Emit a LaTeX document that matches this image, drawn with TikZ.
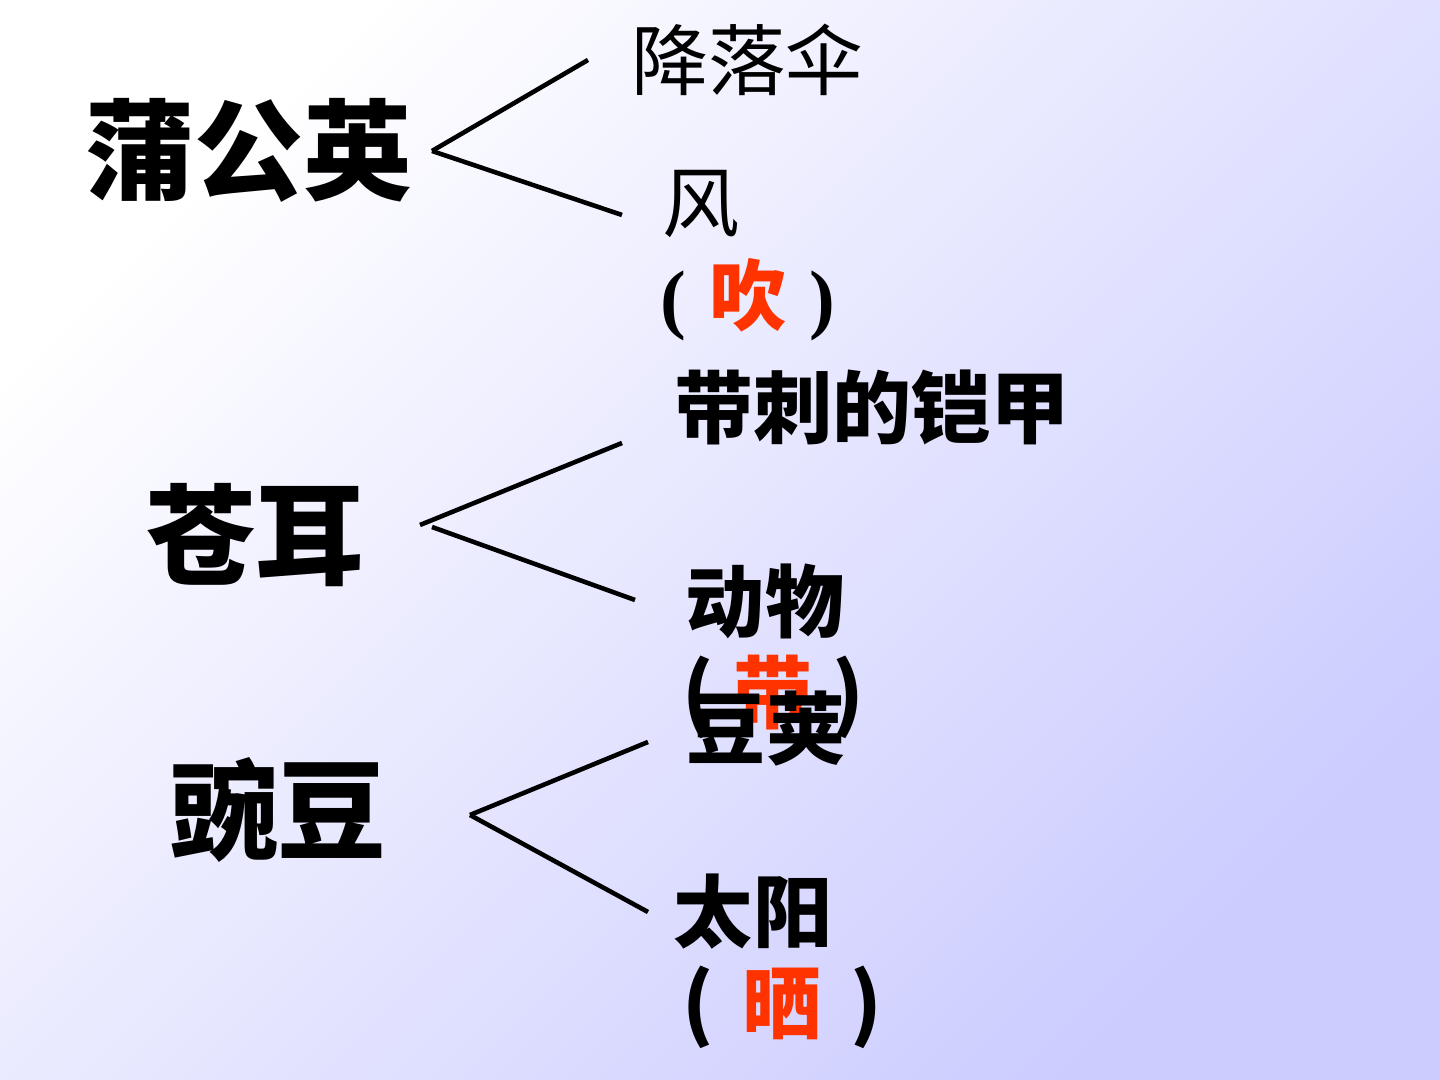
\documentclass[tikz,border=0pt]{standalone}
\usepackage{fontspec}
\setmainfont{Noto Sans CJK SC}
\newfontfamily\parenfont{Liberation Serif}
\usepackage{xcolor}
\usetikzlibrary{positioning}
\definecolor{bgend}{RGB}{204,204,255}
\definecolor{hl}{RGB}{255,51,0}

\begin{document}
\begin{tikzpicture}[
  plant/.style={inner sep=0pt,font=\fontsize{31}{31}\selectfont\bfseries},
  trait/.style={inner sep=0pt,font=\fontsize{22}{22}\selectfont},
  agent/.style={inner sep=0pt,font=\fontsize{22.5}{22.5}\selectfont\bfseries},
  branch/.style={line width=1.3pt}
]
% background
\shade[top color=white,bottom color=bgend,shading angle=45] (0,0) rectangle (14.4,10.8);
\useasboundingbox (0,0) rectangle (14.4,10.8);

% seeds
\node[plant] (dandelion) at (2.49,9.30) {蒲公英};
\node[plant] (burr) at (2.55,5.45) {苍耳};
\node[plant] (pea) at (2.78,2.70) {豌豆};

% dandelion
\node[trait] (chute) at (7.47,10.20) {降落伞};
\node[trait] (wind) at (7.01,8.76) {风};
\node[trait] (blow) at (7.48,7.80) {{\parenfont\bfseries(}\hspace{0.3em}{\bfseries\color{hl}吹}\hspace{0.3em}{\parenfont\bfseries)}};

% burr
\node[agent] (armour) at (8.72,6.72) {带刺的铠甲};
\node[agent] (animal) at (7.65,4.79) {动物};
\node[agent] (carry) at (7.73,3.83) {(\hspace{0.25em}{\color{hl}带}\hspace{0.25em})};

% pea
\node[agent] (pod) at (7.66,3.51) {豆荚};
\node[agent] (sun) at (7.53,1.68) {太阳};
\node[agent] (dry) at (7.82,0.73) {(\hspace{0.36em}{\color{hl}晒}\hspace{0.36em})};

% forks
\coordinate (dfork) at (4.32,9.29);
\coordinate (dup) at (5.88,10.20);
\coordinate (ddown) at (6.22,8.65);
\coordinate (bfork) at (4.20,5.55);
\coordinate (bfork2) at (4.32,5.53);
\coordinate (bup) at (6.22,6.37);
\coordinate (bdown) at (6.35,4.80);
\coordinate (pfork) at (4.70,2.65);
\coordinate (pup) at (6.48,3.38);
\coordinate (pdown) at (6.48,1.68);

\draw[branch] (dfork) -- (dup);
\draw[branch] (dfork) -- (ddown);
\draw[branch] (bfork) -- (bup);
\draw[branch] (bfork2) -- (bdown);
\draw[branch] (pfork) -- (pup);
\draw[branch] (pfork) -- (pdown);
\end{tikzpicture}
\end{document}
